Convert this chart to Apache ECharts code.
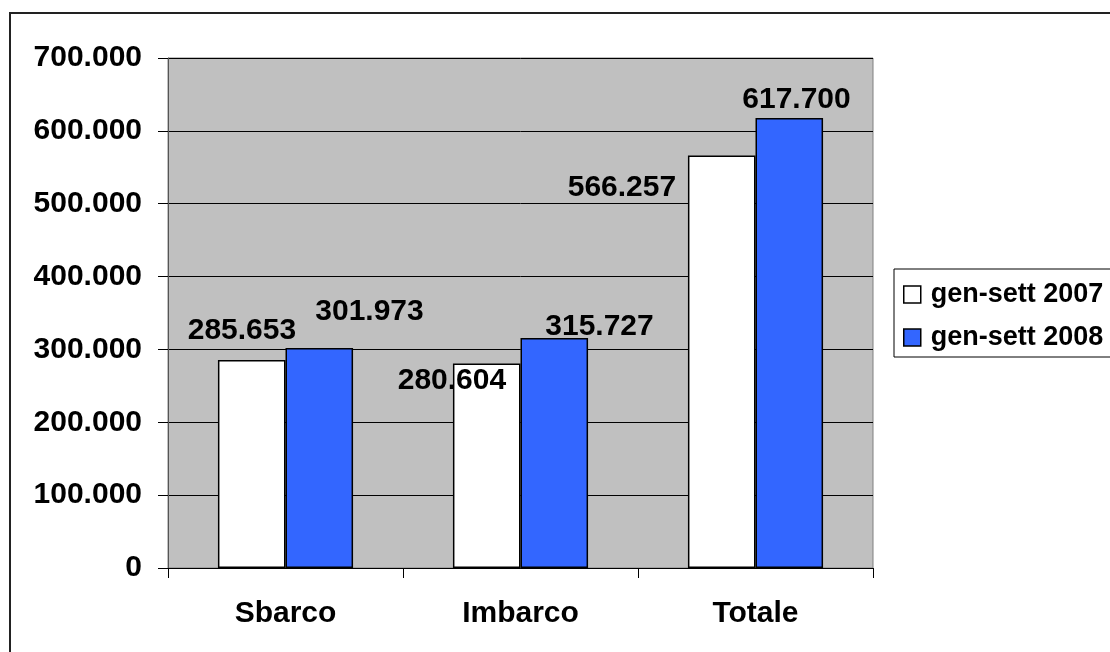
<!DOCTYPE html>
<html>
<head>
<meta charset="utf-8">
<script src="https://cdn.jsdelivr.net/npm/echarts@6/dist/echarts.min.js"></script>
<style>
html,body{margin:0;padding:0;background:#fff;}
#chart{width:1110px;height:652px;}
</style>
</head>
<body>
<div id="chart"></div>
<script>
var categories = ['Sbarco', 'Imbarco', 'Totale'];
var seriesNames = ['gen-sett 2007', 'gen-sett 2008'];
var values2007 = [285653, 280604, 566257];
var values2008 = [301973, 315727, 617700];
var yTicks = [0, 100000, 200000, 300000, 400000, 500000, 600000, 700000];

// label anchor offsets relative to each bar's top-left corner (styling only)
var labelOffsets2007 = [[24, -29], [-1, 17], [-66, 32]];
var labelOffsets2008 = [[84, -36], [79, -11], [41, -18]];

var FONT = '"Liberation Sans", Arial, sans-serif';

function fmt(v) {
  if (v === 0) return '0';
  var s = String(Math.round(v));
  return s.replace(/\B(?=(\d{3})+(?!\d))/g, '.');
}

function buildData(vals, offs) {
  return vals.map(function (v, i) {
    return {
      value: v,
      label: { position: offs[i] }
    };
  });
}

var labelStyle = {
  show: true,
  align: 'center',
  verticalAlign: 'middle',
  fontFamily: FONT,
  fontWeight: 'bold',
  fontSize: 30,
  color: '#000',
  formatter: function (p) { return fmt(p.value); }
};

var chart = echarts.init(document.getElementById('chart'), null, { renderer: 'canvas' });
chart.setOption({
  animation: false,
  backgroundColor: '#fff',
  graphic: [{
    type: 'rect',
    shape: { x: 10, y: 13, width: 1200, height: 700 },
    style: { fill: 'none', stroke: '#222', lineWidth: 2 },
    silent: true,
    z: 100
  }],
  grid: {
    left: 168, right: 237, top: 58, bottom: 84,
    show: true,
    backgroundColor: '#C0C0C0',
    borderColor: '#808080',
    borderWidth: 1,
    containLabel: false
  },
  legend: {
    orient: 'vertical',
    left: 894,
    top: 269,
    padding: [12, 30, 6, 9],
    itemGap: 16,
    itemWidth: 17,
    itemHeight: 17,
    icon: 'rect',
    borderColor: '#000',
    borderWidth: 1,
    backgroundColor: '#fff',
    itemStyle: { borderColor: '#000', borderWidth: 1.5 },
    textStyle: { fontFamily: FONT, fontWeight: 'bold', fontSize: 27, color: '#000', padding: [0, 0, 0, 5] },
    data: seriesNames
  },
  xAxis: {
    type: 'category',
    data: categories,
    axisLine: { show: true, lineStyle: { color: '#000', width: 1 } },
    axisTick: { show: true, inside: false, length: 10, lineStyle: { color: '#000' } },
    axisLabel: { fontFamily: FONT, fontWeight: 'bold', fontSize: 30, color: '#000', margin: 31 },
    splitLine: { show: false }
  },
  yAxis: {
    type: 'value',
    min: yTicks[0],
    max: yTicks[yTicks.length - 1],
    interval: yTicks[1] - yTicks[0],
    axisLine: { show: true, lineStyle: { color: '#555', width: 1 } },
    axisTick: { show: true, inside: false, length: 10, lineStyle: { color: '#000' } },
    axisLabel: { fontFamily: FONT, fontWeight: 'bold', fontSize: 30, color: '#000', margin: 26, formatter: fmt },
    splitLine: { show: true, lineStyle: { color: '#000', width: 1 } }
  },
  series: [{
    name: seriesNames[0],
    type: 'bar',
    data: buildData(values2007, labelOffsets2007),
    barGap: '0%',
    barCategoryGap: '42.5%',
    itemStyle: { color: '#FFFFFF', borderColor: '#000', borderWidth: 1.5 },
    label: labelStyle
  }, {
    name: seriesNames[1],
    type: 'bar',
    data: buildData(values2008, labelOffsets2008),
    barGap: '0%',
    barCategoryGap: '42.5%',
    itemStyle: { color: '#3366FF', borderColor: '#000', borderWidth: 1.5 },
    label: labelStyle
  }]
});
</script>
</body>
</html>
